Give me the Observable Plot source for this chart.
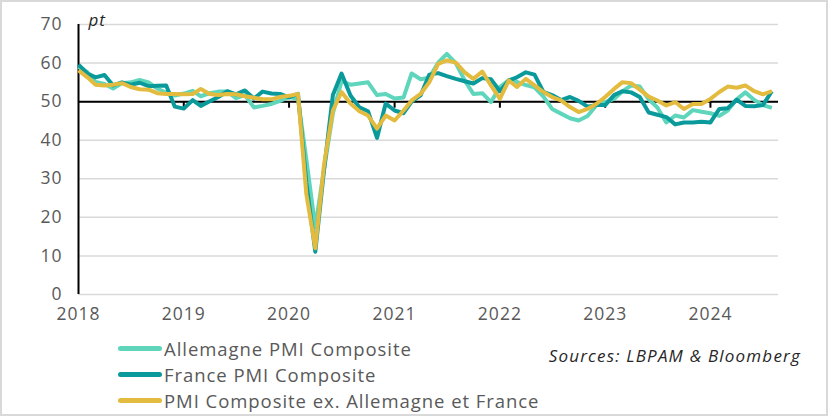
<!DOCTYPE html>
<html>
<head>
<meta charset="utf-8">
<script src="https://cdn.jsdelivr.net/npm/d3@7"></script>
<script src="https://cdn.jsdelivr.net/npm/@observablehq/plot@0.6"></script>
<style>
  html, body { margin: 0; padding: 0; background: #fff; }
  #wrap { position: relative; width: 828px; height: 416px; overflow: hidden; font-family: "Open Sans", sans-serif; color: #595959; }
  #frame { position: absolute; left: 0; top: 0; width: 828px; height: 416px; box-sizing: border-box; border: 2px solid #d9d9d9; pointer-events: none; }
  #chart { position: absolute; left: 0; top: 0; }
  .leg { position: absolute; left: 118px; height: 24px; display: flex; align-items: center; font-size: 18.5px; letter-spacing: 0.95px; white-space: nowrap; }
  .sw { width: 44px; height: 5px; border-radius: 3px; margin-right: 2px; }
  #src { position: absolute; right: 27px; top: 344px; font-style: italic; font-size: 17px; letter-spacing: 1.2px; color: #262626; white-space: nowrap; }
  #chart svg text { letter-spacing: 1px; }
</style>
</head>
<body>
<div id="wrap">
  <div id="chart"></div>
  <div id="legend"></div>
  <div id="src">Sources: LBPAM &amp; Bloomberg</div>
  <div id="frame"></div>
</div>
<script>
// Monthly, Jan 2018 – Aug 2024
const startMonth = "2018-01";
const nMonths = 80;

const allemagne = [
  59.0, 57.6, 55.1, 54.6, 53.4, 54.8, 55.0, 55.6, 55.0, 53.4, 52.3, 51.6,
  52.1, 52.8, 51.4, 52.2, 52.6, 52.6, 50.9, 51.7, 48.5, 48.9, 49.4, 50.2,
  51.2, 50.7, 35.0, 17.4, 32.3, 47.0, 55.3, 54.4, 54.7, 55.0, 51.7, 52.0,
  50.8, 51.1, 57.3, 55.8, 56.2, 60.1, 62.4, 60.0, 55.5, 52.0, 52.2, 49.9,
  53.8, 55.6, 55.1, 54.3, 53.7, 51.3, 48.1, 46.9, 45.7, 45.1, 46.3, 49.0,
  49.9, 50.7, 52.6, 54.2, 53.9, 50.6, 48.5, 44.6, 46.4, 45.9, 47.8, 47.4,
  47.0, 46.3, 47.7, 50.6, 52.4, 50.4, 49.1, 48.4
];
const france = [
  59.6, 57.3, 56.3, 56.9, 54.2, 55.0, 54.4, 54.9, 54.0, 54.1, 54.2, 48.7,
  48.2, 50.4, 48.9, 50.1, 51.2, 52.7, 51.9, 52.9, 50.8, 52.6, 52.1, 52.0,
  51.1, 52.0, 28.9, 11.1, 32.1, 51.7, 57.3, 51.6, 48.5, 47.5, 40.6, 49.5,
  47.7, 47.0, 50.0, 51.6, 57.0, 57.4, 56.6, 55.9, 55.3, 54.7, 56.1, 55.8,
  52.7, 55.5, 56.3, 57.6, 57.0, 52.5, 51.7, 50.4, 51.2, 50.2, 48.7, 49.1,
  49.1, 51.7, 52.7, 52.4, 51.2, 47.2, 46.6, 46.0, 44.1, 44.6, 44.6, 44.8,
  44.6, 48.1, 48.3, 50.5, 48.9, 48.8, 49.1, 52.7
];
const exAllFra = [
  58.1, 56.3, 54.4, 54.2, 54.4, 54.8, 53.8, 53.2, 53.1, 52.2, 52.0, 52.0,
  51.9, 52.0, 53.3, 52.0, 51.7, 52.0, 51.9, 51.4, 51.0, 50.6, 50.6, 51.2,
  51.5, 52.0, 26.0, 12.0, 33.5, 47.7, 52.5, 49.5, 47.5, 46.4, 43.0, 46.4,
  45.1, 47.7, 50.3, 52.0, 55.0, 59.8, 60.7, 60.1, 57.6, 55.9, 57.8, 54.2,
  50.7, 55.5, 53.8, 55.9, 54.2, 52.5, 51.2, 50.3, 48.6, 47.3, 48.1, 49.4,
  51.2, 53.3, 55.0, 54.8, 53.1, 51.3, 50.3, 49.0, 49.9, 48.1, 49.4, 49.4,
  50.7, 52.5, 53.9, 53.6, 54.2, 52.7, 51.9, 52.7
];

const seriesNames = ["Allemagne PMI Composite", "France PMI Composite", "PMI Composite ex. Allemagne et France"];
const seriesColors = ["#5fd6bb", "#0a9a9b", "#e3bb3e"];
const yTicks = [0, 10, 20, 30, 40, 50, 60, 70];
const yearTicks = ["2018", "2019", "2020", "2021", "2022", "2023", "2024"];
const xDomain = ["2018-01-01", "2024-08-24"];
const yUnit = "pt";

const parse = d3.utcParse("%Y-%m");
const months = d3.range(nMonths).map(i => d3.utcMonth.offset(parse(startMonth), i));
const allSeries = [allemagne, france, exAllFra];
const data = allSeries.flatMap((vals, k) => vals.map((v, i) => ({date: months[i], value: v, series: seriesNames[k]})));
const years = yearTicks.map(y => d3.utcParse("%Y")(y));

const chart = Plot.plot({
  width: 828,
  height: 330,
  marginLeft: 78,
  marginRight: 50,
  marginTop: 24,
  marginBottom: 36,
  style: {fontFamily: "Open Sans, sans-serif", color: "#595959", background: "transparent", overflow: "visible"},
  x: {type: "utc", domain: xDomain.map(d => new Date(d))},
  y: {domain: [0, 70]},
  color: {domain: seriesNames, range: seriesColors},
  marks: [
    Plot.ruleY(yTicks, {stroke: "#d9d9d9", strokeWidth: 1.5}),
    Plot.ruleY([50], {stroke: "#000", strokeWidth: 2}),
    Plot.ruleX(years.slice(1), {x: d => d, y1: 50, y2: 48.3, stroke: "#000", strokeWidth: 2}),
    Plot.ruleX([years[0]], {x: d => d, y1: 0, y2: 70, stroke: "#000", strokeWidth: 2}),
    Plot.axisY({ticks: yTicks, tickSize: 0, tickPadding: 16, fontSize: 17.5, fill: "#595959", label: null}),
    Plot.axisX({ticks: years, tickFormat: d3.utcFormat("%Y"), tickSize: 0, tickPadding: 13, fontSize: 17.5, fill: "#595959", label: null}),
    Plot.line(data, {x: "date", y: "value", z: "series", stroke: "series", strokeWidth: 4, strokeLinejoin: "round", strokeLinecap: "butt"}),
    Plot.text([yUnit], {frameAnchor: "top-left", dx: 10, dy: -4, text: d => d, fontSize: 17, fontStyle: "italic", textAnchor: "start", lineAnchor: "middle", fill: "#262626"})
  ]
});
document.getElementById("chart").appendChild(chart);

const legend = document.getElementById("legend");
const legTops = [336, 362, 388];
seriesNames.forEach((name, i) => {
  const row = document.createElement("div");
  row.className = "leg";
  row.style.top = legTops[i] + "px";
  const sw = document.createElement("span");
  sw.className = "sw";
  sw.style.background = seriesColors[i];
  const t = document.createElement("span");
  t.textContent = name;
  row.appendChild(sw);
  row.appendChild(t);
  legend.appendChild(row);
});
</script>
</body>
</html>
